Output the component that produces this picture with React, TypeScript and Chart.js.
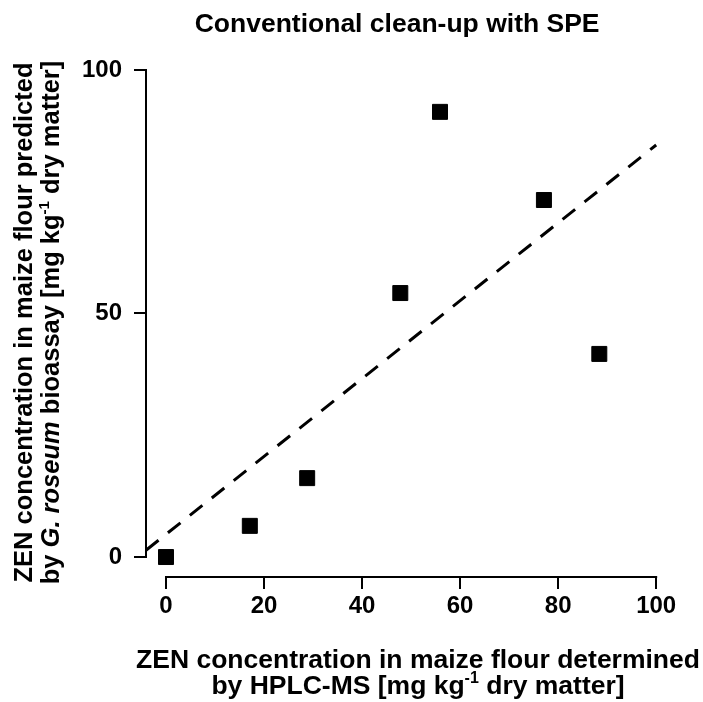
import React, { useEffect, useRef } from "react";
import { Chart, registerables } from "chart.js";

Chart.register(...registerables);

// ---- data ----
const hplcValues = [0, 17.1, 28.8, 47.8, 55.9, 77.1, 88.4];
const bioassayValues = [0, 6.4, 16.2, 54.2, 91.4, 73.3, 41.7];
const fitLineX = [-4.08, 100];
const fitLineY = [1.4, 84.6];
const xTickValues = [0, 20, 40, 60, 80, 100];
const yTickValues = [0, 50, 100];

const chartTitle = "Conventional clean-up with SPE";
type Seg = { t: string; italic?: boolean; sup?: boolean };
const xTitleLines: Seg[][] = [
  [{ t: "ZEN concentration in maize flour determined" }],
  [{ t: "by HPLC-MS [mg kg" }, { t: "-1", sup: true }, { t: " dry matter]" }],
];
const yTitleLines: Seg[][] = [
  [{ t: "ZEN concentration in maize flour predicted" }],
  [
    { t: "by " },
    { t: "G. roseum", italic: true },
    { t: " bioassay [mg kg" },
    { t: "-1", sup: true },
    { t: " dry matter]" },
  ],
];

const FONT = '"Liberation Sans", Arial, Helvetica, sans-serif';

function segFont(s: Seg, size: number) {
  const sz = s.sup ? Math.round(size * 0.6) : size;
  return `${s.italic ? "italic " : ""}bold ${sz}px ${FONT}`;
}

function drawRich(ctx: CanvasRenderingContext2D, segs: Seg[], cx: number, baseline: number, size: number) {
  const widths = segs.map((s) => {
    ctx.font = segFont(s, size);
    return ctx.measureText(s.t).width;
  });
  const total = widths.reduce((a, b) => a + b, 0);
  let x = cx - total / 2;
  segs.forEach((s, i) => {
    ctx.font = segFont(s, size);
    ctx.fillText(s.t, x, s.sup ? baseline - size * 0.4 : baseline);
    x += widths[i];
  });
}

const axesPlugin = {
  id: "rAxes",
  afterDraw(chart: any) {
    const { ctx, chartArea, scales } = chart;
    const xs = scales.x;
    const ys = scales.y;
    ctx.save();
    ctx.strokeStyle = "#000";
    ctx.lineWidth = 2;
    ctx.lineCap = "square";
    const x0 = xs.getPixelForValue(xTickValues[0]);
    const x1 = xs.getPixelForValue(xTickValues[xTickValues.length - 1]);
    // x axis line (0..100)
    ctx.beginPath();
    ctx.moveTo(x0, chartArea.bottom);
    ctx.lineTo(x1, chartArea.bottom);
    ctx.stroke();
    // y axis line (0..100)
    ctx.beginPath();
    ctx.moveTo(chartArea.left, ys.getPixelForValue(yTickValues[0]));
    ctx.lineTo(chartArea.left, ys.getPixelForValue(yTickValues[yTickValues.length - 1]));
    ctx.stroke();

    ctx.fillStyle = "#000";
    ctx.textAlign = "left";
    ctx.textBaseline = "alphabetic";
    // main title
    drawRich(ctx, [{ t: chartTitle }], (chartArea.left + x1) / 2 - 4, 31.5, 26.5);
    // x title
    const xc = (chartArea.left + chartArea.right) / 2;
    drawRich(ctx, xTitleLines[0], xc, chartArea.bottom + 91, 26.5);
    drawRich(ctx, xTitleLines[1], xc, chartArea.bottom + 117, 26.5);
    // y title
    const yc = (ys.getPixelForValue(0) + ys.getPixelForValue(100)) / 2 + 9;
    const base1 = chartArea.left - 114;
    const base2 = chartArea.left - 87;
    [base1, base2].forEach((bx, i) => {
      ctx.save();
      ctx.translate(bx, yc);
      ctx.rotate(-Math.PI / 2);
      drawRich(ctx, yTitleLines[i], 0, 0, 25.5);
      ctx.restore();
    });
    ctx.restore();
  },
};

export default function App() {
  const ref = useRef<HTMLCanvasElement | null>(null);
  useEffect(() => {
    if (!ref.current) return;
    const chart = new Chart(ref.current, {
      type: "scatter",
      data: {
        datasets: [
          {
            label: "samples",
            data: hplcValues.map((x, i) => ({ x, y: bioassayValues[i] })),
            pointStyle: "rect",
            pointRadius: 10.6,
            pointHoverRadius: 10.6,
            pointBackgroundColor: "#000",
            pointBorderColor: "#000",
            pointBorderWidth: 1,
            showLine: false,
          },
          {
            label: "fit",
            data: fitLineX.map((x, i) => ({ x, y: fitLineY[i] })),
            showLine: true,
            pointRadius: 0,
            borderColor: "#000",
            borderWidth: 3,
            borderDash: [16, 12],
            fill: false,
          },
        ],
      },
      options: {
        animation: false,
        responsive: false,
        events: [],
        layout: { padding: { left: 0, right: 13, top: 50, bottom: 0 } },
        plugins: {
          legend: { display: false },
          tooltip: { enabled: false },
          title: { display: false },
        },
        scales: {
          x: {
            type: "linear",
            position: "bottom",
            min: -4.08,
            max: 106.9,
            afterBuildTicks: (s: any) => {
              s.ticks = xTickValues.map((v) => ({ value: v }));
            },
            afterFit: (s: any) => {
              s.height = 125;
            },
            grid: { display: true, drawOnChartArea: false, drawTicks: true, tickLength: 12, color: "#000", lineWidth: 2 },
            border: { display: false },
            ticks: {
              color: "#000",
              padding: 3,
              maxRotation: 0,
              autoSkip: false,
              font: { family: FONT, size: 24, weight: "bold", lineHeight: 1.2 },
            },
          },
          y: {
            type: "linear",
            position: "left",
            min: -4.1,
            max: 104.1,
            afterBuildTicks: (s: any) => {
              s.ticks = yTickValues.map((v) => ({ value: v }));
            },
            afterFit: (s: any) => {
              s.width = 146;
            },
            grid: { display: true, drawOnChartArea: false, drawTicks: true, tickLength: 12, color: "#000", lineWidth: 2 },
            border: { display: false },
            ticks: {
              color: "#000",
              padding: 12,
              autoSkip: false,
              font: { family: FONT, size: 24, weight: "bold", lineHeight: 1.2 },
            },
          },
        },
      },
      plugins: [axesPlugin],
    } as any);
    return () => chart.destroy();
  }, []);

  return (
    <div style={{ position: "absolute", left: 0, top: 0, width: 703, height: 702, background: "#fff" }}>
      <canvas ref={ref} width={703} height={702} style={{ display: "block" }} />
    </div>
  );
}
